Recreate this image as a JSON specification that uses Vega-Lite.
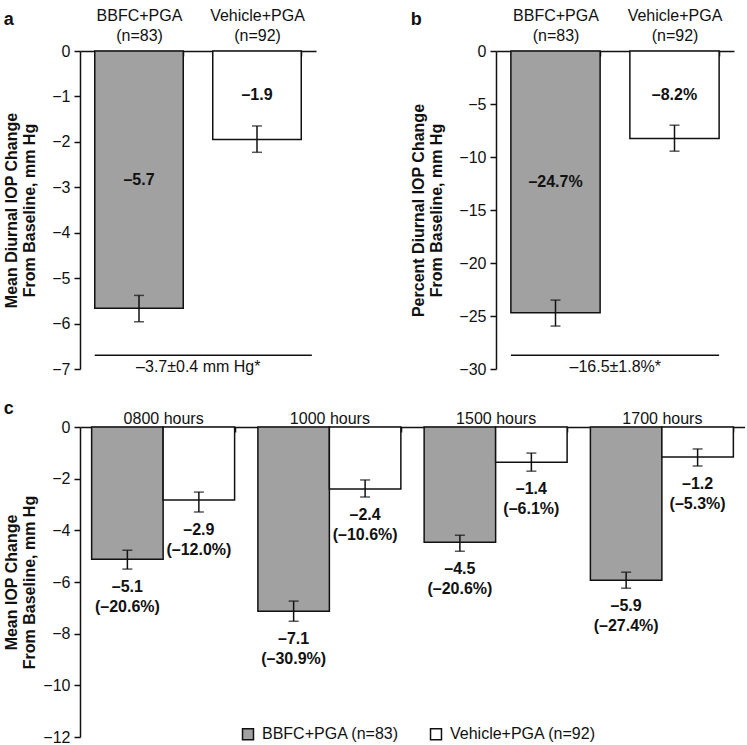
{
  "$schema": "https://vega.github.io/schema/vega-lite/v6.json",
  "padding": {"left": 3, "top": 7, "right": 0, "bottom": 2},
  "background": "white",
  "config": {
    "font": "Liberation Sans",
    "view": {"stroke": null},
    "axis": {"grid": false, "labelFontSize": 16, "labelColor": "#111", "titleFontSize": 16, "titleFontWeight": "bold", "titleColor": "#111", "domainColor": "#111", "tickColor": "#111", "domainWidth": 1.5, "tickWidth": 1.5, "titleLineHeight": 18},
    "title": {"fontSize": 18, "fontWeight": "bold", "anchor": "start", "frame": "bounds", "color": "#111"},
    "concat": {"spacing": 20}
  },
  "resolve": {"scale": {"fill": "independent"}, "legend": {"fill": "independent"}},
  "spacing": 23,
  "vconcat": [
    {
      "resolve": {"scale": {"fill": "independent"}, "legend": {"fill": "independent"}},
      "hconcat": [
        {
          "width": 236, "height": 318,
          "title": {"text": "a", "offset": -22},
          "data": {"values": [
            {"group": "BBFC+PGA|(n=83)", "value": -5.66, "lo": -5.96, "hi": -5.38, "label": "–5.7"},
            {"group": "Vehicle+PGA|(n=92)", "value": -1.95, "lo": -2.23, "hi": -1.65, "label": "–1.9"}
          ]},
          "encoding": {
            "x": {"field": "group", "type": "nominal", "sort": null, "scale": {"domain": ["BBFC+PGA|(n=83)", "Vehicle+PGA|(n=92)"], "paddingInner": 0.25, "paddingOuter": 0.125},
              "axis": {"orient": "top", "title": null, "labelAngle": 0, "labelExpr": "isValid(datum.value) ? split(datum.value, '|') : ''", "labelBaseline": "top", "labelPadding": 49, "labelLineHeight": 20, "tickBand": "extent", "tickSize": -5}}
          },
          "layer": [
            {"mark": {"type": "bar", "stroke": "#111", "strokeWidth": 1.5},
             "encoding": {
               "y": {"field": "value", "type": "quantitative", "scale": {"domain": [-7, 0], "nice": false},
                 "axis": {"values": [0, -1, -2, -3, -4, -5, -6, -7], "tickSize": 6, "labelPadding": 4, "titlePadding": 14, "title": ["Mean Diurnal IOP Change", "From Baseline, mm Hg"]}},
               "fill": {"field": "group", "type": "nominal", "scale": {"domain": ["BBFC+PGA|(n=83)", "Vehicle+PGA|(n=92)"], "range": ["#a1a1a1", "#ffffff"]}, "legend": null}
             }},
            {"mark": {"type": "rule", "stroke": "#111", "strokeWidth": 1.5},
             "encoding": {"y": {"field": "lo", "type": "quantitative"}, "y2": {"field": "hi"}}},
            {"mark": {"type": "tick", "color": "#111", "size": 10, "thickness": 1.5},
             "encoding": {"y": {"field": "lo", "type": "quantitative"}}},
            {"mark": {"type": "tick", "color": "#111", "size": 10, "thickness": 1.5},
             "encoding": {"y": {"field": "hi", "type": "quantitative"}}},
            {"transform": [{"calculate": "datum.value / 2", "as": "mid"}],
             "mark": {"type": "text", "fontSize": 16, "fontWeight": "bold", "color": "#111"},
             "encoding": {"y": {"field": "mid", "type": "quantitative"}, "text": {"field": "label"}}},
            {"data": {"values": [{"a": "BBFC+PGA|(n=83)", "b": "Vehicle+PGA|(n=92)", "y": -6.7, "note": "–3.7±0.4 mm Hg*"}]},
             "layer": [
               {"mark": {"type": "rule", "stroke": "#111", "strokeWidth": 1.5},
                "encoding": {"x": {"field": "a", "type": "nominal", "bandPosition": 0}, "x2": {"field": "b", "bandPosition": 1.12}, "y": {"field": "y", "type": "quantitative"}}},
               {"mark": {"type": "text", "fontSize": 16, "color": "#111"},
                "encoding": {"x": {"field": "a", "type": "nominal", "bandPosition": 1.17}, "y": {"datum": -6.96}, "text": {"field": "note"}}}
             ]}
          ]
        },
        {
          "width": 238, "height": 318,
          "title": {"text": "b", "offset": -22},
          "data": {"values": [
            {"group": "BBFC+PGA|(n=83)", "value": -24.7, "lo": -25.95, "hi": -23.5, "label": "–24.7%"},
            {"group": "Vehicle+PGA|(n=92)", "value": -8.25, "lo": -9.45, "hi": -7.0, "label": "–8.2%"}
          ]},
          "encoding": {
            "x": {"field": "group", "type": "nominal", "sort": null, "scale": {"domain": ["BBFC+PGA|(n=83)", "Vehicle+PGA|(n=92)"], "paddingInner": 0.25, "paddingOuter": 0.125},
              "axis": {"orient": "top", "title": null, "labelAngle": 0, "labelExpr": "isValid(datum.value) ? split(datum.value, '|') : ''", "labelBaseline": "top", "labelPadding": 49, "labelLineHeight": 20, "tickBand": "extent", "tickSize": -5}}
          },
          "layer": [
            {"mark": {"type": "bar", "stroke": "#111", "strokeWidth": 1.5},
             "encoding": {
               "y": {"field": "value", "type": "quantitative", "scale": {"domain": [-30, 0], "nice": false},
                 "axis": {"values": [0, -5, -10, -15, -20, -25, -30], "tickSize": 6, "labelPadding": 4, "titlePadding": 14, "title": ["Percent Diurnal IOP Change", "From Baseline, mm Hg"]}},
               "fill": {"field": "group", "type": "nominal", "scale": {"domain": ["BBFC+PGA|(n=83)", "Vehicle+PGA|(n=92)"], "range": ["#a1a1a1", "#ffffff"]}, "legend": null}
             }},
            {"mark": {"type": "rule", "stroke": "#111", "strokeWidth": 1.5},
             "encoding": {"y": {"field": "lo", "type": "quantitative"}, "y2": {"field": "hi"}}},
            {"mark": {"type": "tick", "color": "#111", "size": 10, "thickness": 1.5},
             "encoding": {"y": {"field": "lo", "type": "quantitative"}}},
            {"mark": {"type": "tick", "color": "#111", "size": 10, "thickness": 1.5},
             "encoding": {"y": {"field": "hi", "type": "quantitative"}}},
            {"transform": [{"calculate": "datum.value / 2", "as": "mid"}],
             "mark": {"type": "text", "fontSize": 16, "fontWeight": "bold", "color": "#111"},
             "encoding": {"y": {"field": "mid", "type": "quantitative"}, "text": {"field": "label"}}},
            {"data": {"values": [{"a": "BBFC+PGA|(n=83)", "b": "Vehicle+PGA|(n=92)", "y": -28.7, "note": "–16.5±1.8%*"}]},
             "layer": [
               {"mark": {"type": "rule", "stroke": "#111", "strokeWidth": 1.5},
                "encoding": {"x": {"field": "a", "type": "nominal", "bandPosition": 0}, "x2": {"field": "b", "bandPosition": 1.0}, "y": {"field": "y", "type": "quantitative"}}},
               {"mark": {"type": "text", "fontSize": 16, "color": "#111"},
                "encoding": {"x": {"field": "a", "type": "nominal", "bandPosition": 1.17}, "y": {"datum": -29.8}, "text": {"field": "note"}}}
             ]}
          ]
        }
      ],
      "spacing": 94
    },
    {
      "width": 665, "height": 310,
      "title": {"text": "c", "offset": -8},
      "data": {"values": [
        {"time": "0800 hours", "group": "BBFC+PGA (n=83)", "value": -5.12, "lo": -5.50, "hi": -4.77, "label": "–5.1|(–20.6%)"},
        {"time": "0800 hours", "group": "Vehicle+PGA (n=92)", "value": -2.83, "lo": -3.29, "hi": -2.52, "label": "–2.9|(–12.0%)"},
        {"time": "1000 hours", "group": "BBFC+PGA (n=83)", "value": -7.13, "lo": -7.52, "hi": -6.74, "label": "–7.1|(–30.9%)"},
        {"time": "1000 hours", "group": "Vehicle+PGA (n=92)", "value": -2.40, "lo": -2.71, "hi": -2.05, "label": "–2.4|(–10.6%)"},
        {"time": "1500 hours", "group": "BBFC+PGA (n=83)", "value": -4.46, "lo": -4.81, "hi": -4.19, "label": "–4.5|(–20.6%)"},
        {"time": "1500 hours", "group": "Vehicle+PGA (n=92)", "value": -1.36, "lo": -1.71, "hi": -1.01, "label": "–1.4|(–6.1%)"},
        {"time": "1700 hours", "group": "BBFC+PGA (n=83)", "value": -5.93, "lo": -6.24, "hi": -5.62, "label": "–5.9|(–27.4%)"},
        {"time": "1700 hours", "group": "Vehicle+PGA (n=92)", "value": -1.16, "lo": -1.51, "hi": -0.85, "label": "–1.2|(–5.3%)"}
      ]},
      "encoding": {
        "x": {"field": "time", "type": "nominal", "sort": null, "scale": {"domain": ["0800 hours", "1000 hours", "1500 hours", "1700 hours"], "paddingInner": 0.14, "paddingOuter": 0.07},
          "axis": {"orient": "top", "title": null, "labelAngle": 0, "tickBand": "extent", "tickSize": -5, "labelPadding": 6}},
        "xOffset": {"field": "group", "type": "nominal", "sort": null, "scale": {"domain": ["BBFC+PGA (n=83)", "Vehicle+PGA (n=92)"], "paddingInner": 0, "paddingOuter": 0}}
      },
      "layer": [
        {"mark": {"type": "bar", "stroke": "#111", "strokeWidth": 1.5},
         "encoding": {
           "y": {"field": "value", "type": "quantitative", "scale": {"domain": [-12, 0], "nice": false},
             "axis": {"values": [0, -2, -4, -6, -8, -10, -12], "tickSize": 6, "labelPadding": 4, "titlePadding": 5, "title": ["Mean IOP Change", "From Baseline, mm Hg"]}},
           "fill": {"field": "group", "type": "nominal", "scale": {"domain": ["BBFC+PGA (n=83)", "Vehicle+PGA (n=92)"], "range": ["#a1a1a1", "#ffffff"]},
             "legend": {"orient": "none", "legendX": 160, "legendY": 299, "direction": "horizontal", "title": null, "symbolType": "square", "symbolSize": 120, "symbolStrokeColor": "#111", "symbolStrokeWidth": 1.5, "labelFontSize": 16, "labelColor": "#111", "columnPadding": 28, "labelOffset": 6}}
         }},
        {"mark": {"type": "rule", "stroke": "#111", "strokeWidth": 1.5},
         "encoding": {"y": {"field": "lo", "type": "quantitative"}, "y2": {"field": "hi"}}},
        {"mark": {"type": "tick", "color": "#111", "size": 10, "thickness": 1.5},
         "encoding": {"y": {"field": "lo", "type": "quantitative"}}},
        {"mark": {"type": "tick", "color": "#111", "size": 10, "thickness": 1.5},
         "encoding": {"y": {"field": "hi", "type": "quantitative"}}},
        {"mark": {"type": "text", "fontSize": 16, "fontWeight": "bold", "color": "#111", "baseline": "top", "dy": 10, "lineBreak": "|", "lineHeight": 20},
         "encoding": {"y": {"field": "lo", "type": "quantitative"}, "text": {"field": "label"}}}
      ]
    }
  ]
}
